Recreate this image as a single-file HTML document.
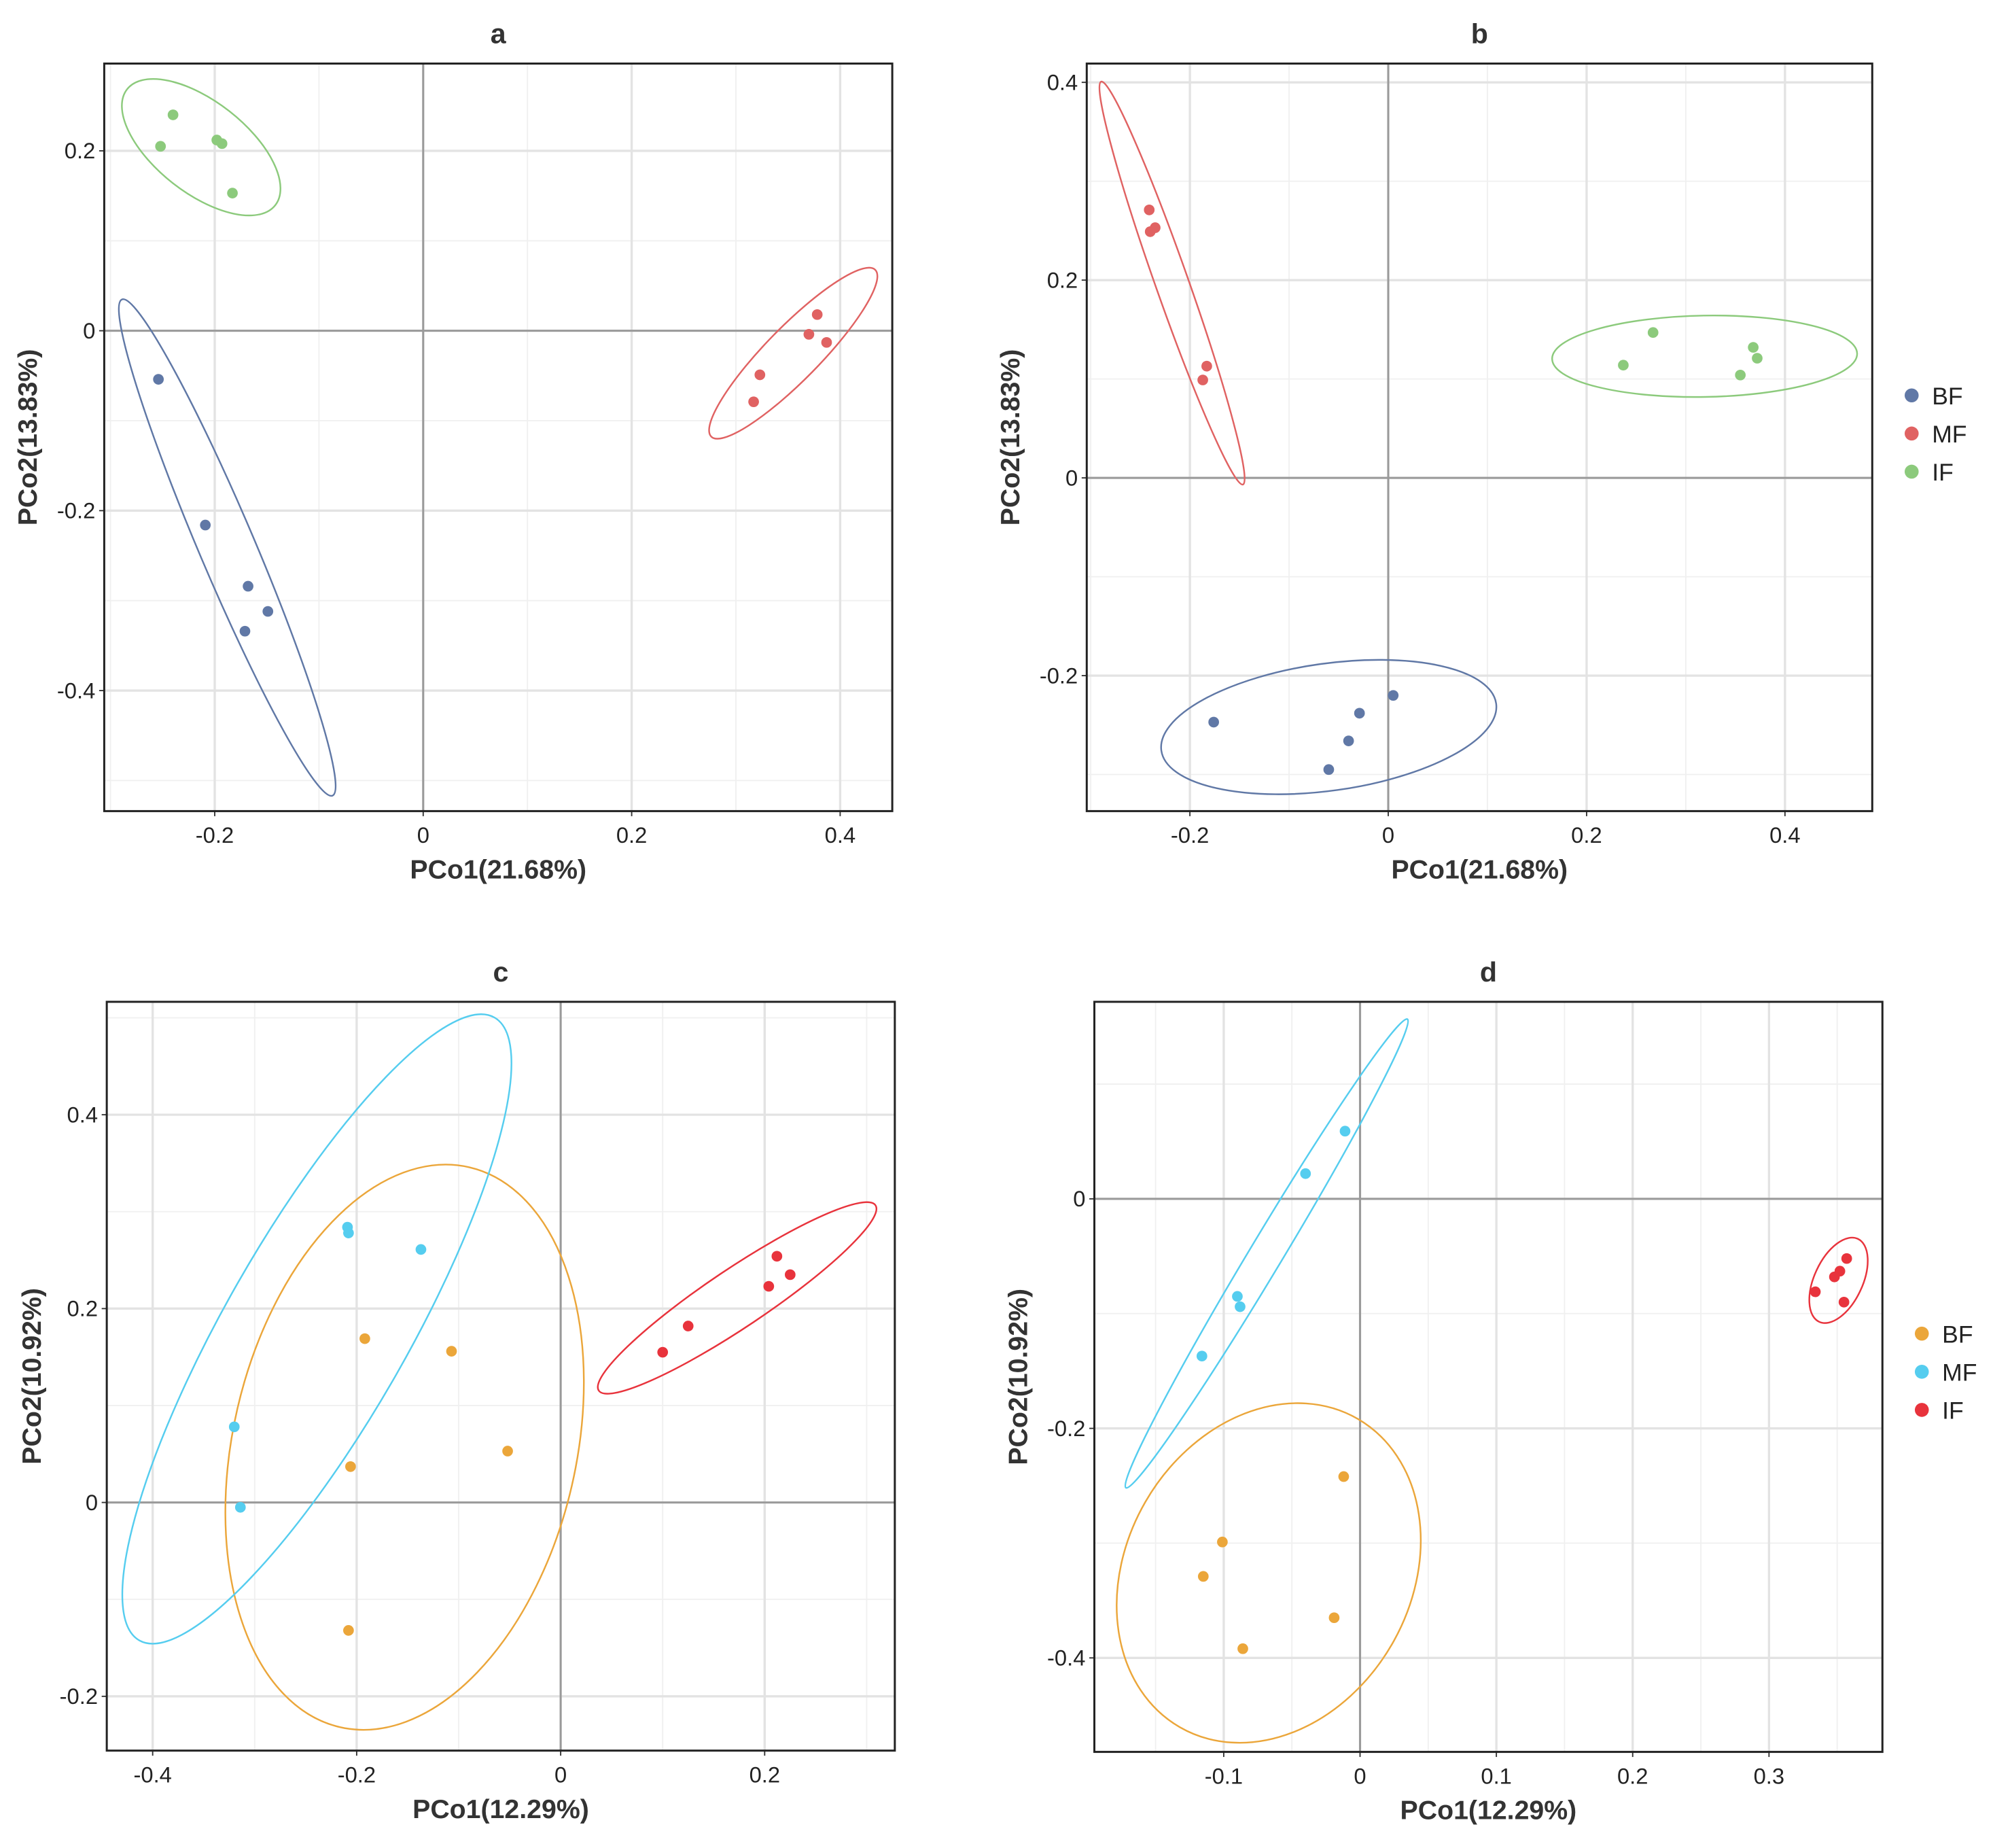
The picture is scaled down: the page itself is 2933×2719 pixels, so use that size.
<!DOCTYPE html>
<html><head><meta charset="utf-8">
<style>
html,body{margin:0;padding:0;background:#fff;overflow:hidden;width:2933px;height:2719px;}
svg{display:block;}
text{font-family:"Liberation Sans",Arial,sans-serif;}
</style></head>
<body>
<svg id="fig" xmlns="http://www.w3.org/2000/svg" width="2933" height="2719" viewBox="0 0 1568 1453.6"></svg>
<script>
// ---------- Data ----------
const aGroups = ["BF","MF","IF"];
// Panel a
const aBFx = [-0.254,-0.209,-0.168,-0.171,-0.149];
const aBFy = [-0.054,-0.216,-0.284,-0.334,-0.312];
const aMFx = [0.378,0.370,0.387,0.323,0.317];
const aMFy = [0.018,-0.004,-0.013,-0.049,-0.079];
const aIFx = [-0.240,-0.252,-0.198,-0.193,-0.183];
const aIFy = [0.240,0.205,0.212,0.208,0.153];
const aXTicks = [-0.2,0,0.2,0.4];
const aYTicks = [0.2,0,-0.2,-0.4];
// Panel b
const bBFx = [-0.176,-0.029,0.005,-0.040,-0.060];
const bBFy = [-0.247,-0.238,-0.220,-0.266,-0.295];
const bMFx = [-0.241,-0.240,-0.235,-0.183,-0.187];
const bMFy = [0.271,0.249,0.253,0.113,0.099];
const bIFx = [0.267,0.237,0.368,0.372,0.355];
const bIFy = [0.147,0.114,0.132,0.121,0.104];
const bXTicks = [-0.2,0,0.2,0.4];
const bYTicks = [0.4,0.2,0,-0.2];
// Panel c
const cBFx = [-0.192,-0.107,-0.052,-0.206,-0.208];
const cBFy = [0.169,0.156,0.053,0.037,-0.132];
const cMFx = [-0.209,-0.208,-0.137,-0.320,-0.314];
const cMFy = [0.284,0.278,0.261,0.078,-0.005];
const cIFx = [0.212,0.225,0.204,0.125,0.100];
const cIFy = [0.254,0.235,0.223,0.182,0.155];
const cXTicks = [-0.4,-0.2,0,0.2];
const cYTicks = [0.4,0.2,0,-0.2];
// Panel d
const dBFx = [-0.012,-0.101,-0.115,-0.019,-0.086];
const dBFy = [-0.242,-0.299,-0.329,-0.365,-0.392];
const dMFx = [-0.011,-0.040,-0.090,-0.088,-0.116];
const dMFy = [0.059,0.022,-0.085,-0.094,-0.137];
const dIFx = [0.357,0.352,0.348,0.334,0.355];
const dIFy = [-0.052,-0.063,-0.068,-0.081,-0.090];
const dXTicks = [-0.1,0,0.1,0.2,0.3];
const dYTicks = [0,-0.2,-0.4];
// ellipse centres (data units)
const aEllCx = [-0.188,0.355,-0.213];
const aEllCy = [-0.241,-0.025,0.204];
const bEllCx = [-0.060,-0.218,0.319];
const bEllCy = [-0.252,0.197,0.123];
const cEllCx = [-0.153,-0.239,0.173];
const cEllCy = [0.057,0.179,0.211];
const dEllCx = [-0.067,-0.0685,0.351];
const dEllCy = [-0.326,-0.0476,-0.071];

// ---------- Layout ----------
const NS="http://www.w3.org/2000/svg";
const svg=document.getElementById('fig');
function mk(tag,attrs,parent){const e=document.createElementNS(NS,tag);for(const k in attrs)e.setAttribute(k,attrs[k]);(parent||svg).appendChild(e);return e;}
const col1={BF:"#6078a6",MF:"#e06262",IF:"#8cca7c"};
const col2={BF:"#eba63a",MF:"#55cdef",IF:"#e8333c"};
const panels=[
 {id:"a",box:[82,50,702,638],x0:-0.306,x1:0.450,y0:-0.534,y1:0.297,xt:aXTicks,yt:aYTicks,
  xs:[aBFx,aMFx,aIFx],ys:[aBFy,aMFy,aIFy],ecx:aEllCx,ecy:aEllCy,
  eshape:[[212,22,67],[92,21,-45.5],[74,36,38]],cols:col1,xl:"PCo1(21.68%)",yl:"PCo2(13.83%)",ylx:22,legend:false},
 {id:"b",box:[855,50,1473,638],x0:-0.304,x1:0.488,y0:-0.337,y1:0.419,xt:bXTicks,yt:bYTicks,
  xs:[bBFx,bMFx,bIFx],ys:[bBFy,bMFy,bIFy],ecx:bEllCx,ecy:bEllCy,
  eshape:[[133,50,-8],[168,13,70.6],[120,32,-1]],cols:col1,xl:"PCo1(21.68%)",yl:"PCo2(13.83%)",ylx:795,legend:[1504,311]},
 {id:"c",box:[84,788,704,1377],x0:-0.445,x1:0.3276,y0:-0.256,y1:0.5165,xt:cXTicks,yt:cYTicks,
  xs:[cBFx,cMFx,cIFx],ys:[cBFy,cMFy,cIFy],ecx:cEllCx,ecy:cEllCy,
  eshape:[[226,135,-77],[282,72,-60.3],[131,23,-33.8]],cols:col2,xl:"PCo1(12.29%)",yl:"PCo2(10.92%)",ylx:25,legend:false},
 {id:"d",box:[861,788,1481,1378],x0:-0.1949,x1:0.3832,y0:-0.4819,y1:0.1717,xt:dXTicks,yt:dYTicks,
  xs:[dBFx,dMFx,dIFx],ys:[dBFy,dMFy,dIFy],ecx:dEllCx,ecy:dEllCy,
  eshape:[[140,112,-60],[215,13,-59],[36,19,-65]],cols:col2,xl:"PCo1(12.29%)",yl:"PCo2(10.92%)",ylx:801,legend:[1512,1049]}
];
function fmt(v){if(Math.abs(v)<1e-9)return "0";return String(Math.round(v*10)/10);}
panels.forEach(p=>{
 const [L,T,R,B]=p.box;
 const sx=v=>L+(v-p.x0)/(p.x1-p.x0)*(R-L);
 const sy=v=>B-(v-p.y0)/(p.y1-p.y0)*(B-T);
 const g=mk('g',{});
 
 
 const bg=mk('rect',{x:L,y:T,width:R-L,height:B-T,fill:"#fff"},g);
 
 
 const clipId='clip'+p.id;
 const cp=mk('clipPath',{id:clipId},g);mk('rect',{x:L,y:T,width:R-L,height:B-T},cp);
 const inner=mk('g',{'clip-path':'url(#'+clipId+')'},g);
 const xstep=p.xt[1]-p.xt[0], ystep=p.yt[0]-p.yt[1];
 for(let v=p.xt[0]-xstep*1.5;v<=p.x1+xstep;v+=xstep){const x=sx(v);const ln=mk('line',{x1:x,x2:x,y1:T,y2:B,stroke:"#f0f0f0","stroke-width":1},inner);}
 for(let v=p.yt[p.yt.length-1]-ystep*1.5;v<=p.y1+ystep;v+=ystep){const y=sy(v);const ln=mk('line',{x1:L,x2:R,y1:y,y2:y,stroke:"#f0f0f0","stroke-width":1},inner);}
 p.xt.forEach(v=>{const x=sx(v);const ln=mk('line',{x1:x,x2:x,y1:T,y2:B,stroke:"#e3e3e3","stroke-width":1.8},inner);
  mk('line',{x1:x,x2:x,y1:B,y2:B+4,stroke:"#333","stroke-width":1},g);
  const t=mk('text',{x:x,y:B+25,'text-anchor':'middle','font-size':17.5,fill:'#222'},g);t.textContent=fmt(v);});
 p.yt.forEach(v=>{const y=sy(v);const ln=mk('line',{x1:L,x2:R,y1:y,y2:y,stroke:"#e3e3e3","stroke-width":1.8},inner);
  mk('line',{x1:L-4,x2:L,y1:y,y2:y,stroke:"#333","stroke-width":1},g);
  const t=mk('text',{x:L-7,y:y+6,'text-anchor':'end','font-size':17.5,fill:'#222'},g);t.textContent=fmt(v);});
 const zx=mk('line',{x1:sx(0),x2:sx(0),y1:T,y2:B,stroke:"#9a9a9a","stroke-width":1.6},inner);
 const zy=mk('line',{x1:L,x2:R,y1:sy(0),y2:sy(0),stroke:"#9a9a9a","stroke-width":1.6},inner);
 aGroups.forEach((gname,i)=>{
  const [rx,ry,ang]=p.eshape[i];const cx=sx(p.ecx[i]),cy=sy(p.ecy[i]);
  const el=mk('ellipse',{cx:cx,cy:cy,rx:rx,ry:ry,transform:`rotate(${ang} ${cx} ${cy})`,fill:'none',stroke:p.cols[gname],'stroke-width':1.3},inner);
  
  
  p.xs[i].forEach((xv,j)=>{
   const c=mk('circle',{cx:sx(xv),cy:sy(p.ys[i][j]),r:4.2,fill:p.cols[gname]},inner);
   
   
  });
 });
 const bd=mk('rect',{x:L,y:T,width:R-L,height:B-T,fill:'none',stroke:'#222','stroke-width':1.6},g);
 
 const cx=(L+R)/2;
 const ti=mk('text',{x:cx,y:T-16,'text-anchor':'middle','font-size':22,'font-weight':'bold',fill:'#333'},g);ti.textContent=p.id;
 
 const xl=mk('text',{x:cx,y:B+53,'text-anchor':'middle','font-size':21,'font-weight':'bold',fill:'#333'},g);xl.textContent=p.xl;
 
 const ym=(T+B)/2;
 const yl=mk('text',{x:p.ylx,y:ym,'text-anchor':'middle','font-size':21,'font-weight':'bold',fill:'#333',transform:`rotate(-90 ${p.ylx} ${ym})`,dy:7},g);yl.textContent=p.yl;
 
 if(p.legend){
  const lg=mk('g',{},g);
  aGroups.forEach((gname,i)=>{
   const y=p.legend[1]+i*30;
   const d=mk('circle',{cx:p.legend[0],cy:y,r:5.5,fill:p.cols[gname]},lg);
   
   const t=mk('text',{x:p.legend[0]+16,y:y+7,'font-size':19,fill:'#222'},lg);t.textContent=gname;
   
  });
 }
});
</script>
</body></html>
